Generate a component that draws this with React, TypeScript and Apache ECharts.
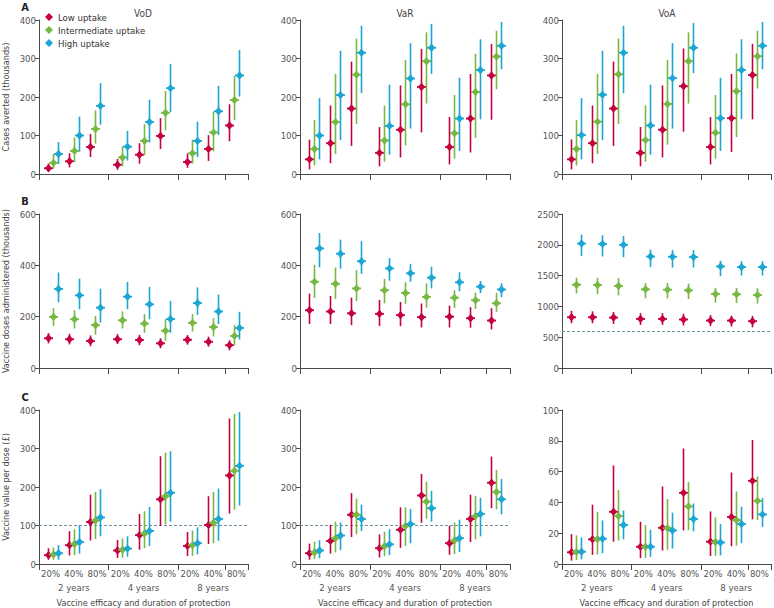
import React, { useEffect, useRef } from "react";
import * as echarts from "echarts";

// ---- labels ----
const efficacyLabels = ["20%", "40%", "80%"];
const durationLabels = ["2 years", "4 years", "8 years"];
const uptakeNames = ["Low uptake", "Intermediate uptake", "High uptake"];
const perspectiveTitles = ["VoD", "VaR", "VoA"];
const panelLetters = ["A", "B", "C"];
const rowAxisNames = [
  "Cases averted (thousands)",
  "Vaccine doses administered (thousands)",
  "Vaccine value per dose (£)",
];
const xAxisTitle = "Vaccine efficacy and duration of protection";

// y-axis ranges per panel [row][col]: [min, max, interval]
const yRanges = [
  [[0, 400, 100], [0, 400, 100], [0, 400, 100]],
  [[0, 600, 200], [0, 600, 200], [0, 2500, 500]],
  [[0, 400, 100], [0, 400, 100], [0, 100, 20]],
];
// dashed reference lines per panel [row][col] (null = none)
const referenceLines = [
  [null, null, null],
  [null, null, 600],
  [100, 100, null],
];

// ---- data: [estimate, lower, upper] for 2y(20,40,80%), 4y(...), 8y(...) ----
// A: cases averted (thousands)
const casesVoDLow = [[15,7,27],[33,17,54],[70,44,104],[24,11,39],[50,27,80],[99,65,145],[31,16,53],[65,34,101],[126,85,181]];
const casesVoDInt = [[29,14,52],[60,31,95],[117,79,165],[43,20,72],[86,49,130],[159,114,216],[54,27,89],[108,59,162],[192,140,255]];
const casesVoDHigh = [[52,26,83],[100,58,149],[177,128,236],[71,35,112],[135,82,193],[223,161,286],[86,44,136],[163,101,229],[256,201,322]];
const casesVaRLow = [[38,12,89],[80,28,178],[170,73,292],[55,20,122],[115,43,230],[226,108,325],[70,25,148],[144,56,260],[256,141,338]];
const casesVaRInt = [[65,22,140],[135,52,260],[258,130,352],[87,32,178],[181,74,296],[293,183,368],[106,40,205],[213,94,312],[305,220,372]];
const casesVaRHigh = [[100,38,197],[205,88,320],[315,210,385],[125,50,232],[248,118,340],[328,260,390],[144,60,250],[270,142,350],[333,272,395]];
const casesVoALow = [[38,12,90],[80,28,178],[170,73,292],[55,20,122],[115,43,230],[228,110,326],[70,25,148],[145,57,260],[257,142,338]];
const casesVoAInt = [[65,22,140],[136,52,260],[259,130,352],[88,32,178],[182,76,296],[293,183,368],[107,40,205],[215,96,313],[306,222,372]];
const casesVoAHigh = [[101,38,197],[206,88,320],[315,210,385],[126,50,232],[249,118,340],[328,262,392],[145,60,250],[270,143,350],[333,272,395]];
// B: vaccine doses administered (thousands)
const dosesVoDLow = [[116,96,136],[112,92,133],[105,85,127],[112,93,132],[109,89,129],[96,77,116],[110,91,128],[102,83,122],[89,69,108]];
const dosesVoDInt = [[199,164,233],[190,154,225],[167,130,203],[186,154,220],[173,137,210],[145,106,190],[176,142,210],[160,123,194],[125,90,167]];
const dosesVoDHigh = [[308,256,372],[283,229,348],[235,177,309],[278,229,335],[248,190,316],[191,137,261],[253,207,314],[220,171,286],[156,111,219]];
const dosesVaRLow = [[225,171,290],[220,171,281],[213,167,274],[211,164,265],[206,163,257],[198,158,251],[200,158,243],[194,157,237],[185,150,233]];
const dosesVaRInt = [[336,273,402],[328,269,391],[310,261,381],[303,252,347],[292,250,334],[277,235,329],[274,234,303],[264,230,294],[252,219,292]];
const dosesVaRHigh = [[466,392,526],[445,387,500],[416,367,494],[388,340,428],[369,336,406],[352,310,395],[334,299,373],[317,292,339],[306,276,330]];
const dosesVoALow = [[824,727,927],[824,727,920],[819,715,910],[797,700,890],[797,700,890],[787,690,880],[770,680,860],[770,675,850],[760,660,845]];
const dosesVoAInt = [[1352,1212,1466],[1347,1200,1466],[1331,1180,1460],[1277,1130,1380],[1271,1130,1380],[1261,1120,1370],[1201,1060,1300],[1196,1055,1300],[1185,1045,1295]];
const dosesVoAHigh = [[2020,1816,2166],[2015,1810,2155],[1999,1800,2145],[1810,1640,1920],[1805,1630,1915],[1800,1630,1915],[1649,1490,1740],[1638,1500,1735],[1638,1500,1735]];
// C: vaccine value per dose (£)
const valueVoDLow = [[23,11,41],[49,22,85],[109,61,180],[35,16,62],[75,37,130],[168,99,280],[47,21,83],[101,52,176],[230,131,378]];
const valueVoDInt = [[25,11,43],[52,23,90],[113,65,187],[37,16,66],[79,41,137],[176,103,289],[49,21,87],[107,54,187],[242,141,390]];
const valueVoDHigh = [[28,11,49],[57,27,100],[121,72,194],[40,19,72],[86,47,148],[185,110,293],[54,25,95],[117,60,196],[255,152,395]];
const valueVaRLow = [[28,11,53],[60,27,102],[128,70,184],[41,17,77],[89,42,147],[178,107,234],[54,24,99],[117,57,180],[211,145,279]];
const valueVaRInt = [[30,13,58],[67,30,110],[128,77,170],[46,20,84],[99,47,147],[162,118,214],[61,26,108],[125,64,177],[187,142,244]];
const valueVaRHigh = [[35,15,62],[74,36,108],[117,86,154],[51,23,90],[104,54,143],[145,110,190],[67,31,115],[130,72,172],[168,129,221]];
const valueVoALow = [[7.6,2.2,19.4],[16,6,38.5],[33.9,14.5,64],[11.2,3.8,27.4],[23.5,8.8,50.3],[46.2,21.8,75],[14.5,5.2,34.1],[30.5,11.5,59.4],[54,29,80.5]];
const valueVoAInt = [[7.8,2.5,18.6],[16.2,6.2,33.7],[31.1,15.3,48],[11.2,4,25.3],[23.3,9.3,42.1],[37.4,22,53.3],[14.3,5.3,30.2],[28.5,12,47.1],[41,28.5,56.8]];
const valueVoAHigh = [[8,3,17.3],[16.4,7,28.3],[25.3,16,34.7],[11.2,4.5,22.2],[21.8,10.1,33.3],[29.2,21.2,39.3],[14,5.6,25.9],[25.9,13.6,37.2],[32.2,24.1,42.8]];

const panelData = [
  [[casesVoDLow, casesVoDInt, casesVoDHigh], [casesVaRLow, casesVaRInt, casesVaRHigh], [casesVoALow, casesVoAInt, casesVoAHigh]],
  [[dosesVoDLow, dosesVoDInt, dosesVoDHigh], [dosesVaRLow, dosesVaRInt, dosesVaRHigh], [dosesVoALow, dosesVoAInt, dosesVoAHigh]],
  [[valueVoDLow, valueVoDInt, valueVoDHigh], [valueVaRLow, valueVaRInt, valueVaRHigh], [valueVoALow, valueVoAInt, valueVoAHigh]],
];

// ---- styling / layout ----
const COLORS = ["#c5003e", "#77b843", "#1ba6d3"];
const FONT = "'Liberation Sans Narrow', 'DejaVu Sans Condensed', 'Liberation Sans', sans-serif";
const AXIS_COLOR = "#4a4a4a";
const LABEL_COLOR = "#555";
const GRID_LEFTS = [38, 300, 562];
const GRID_WIDTH = 210;
const GRID_TOPS = [20, 214, 410];
const GRID_HEIGHT = 154;
const SERIES_OFFSETS = [-5, 0, 5];

function buildOption() {
  const grid: any[] = [];
  const xAxis: any[] = [];
  const yAxis: any[] = [];
  const series: any[] = [];
  const graphic: any[] = [];

  const catLabels: string[] = [];
  durationLabels.forEach(() => efficacyLabels.forEach((e) => catLabels.push(e)));

  for (let r = 0; r < 3; r++) {
    for (let c = 0; c < 3; c++) {
      const g = r * 3 + c;
      grid.push({
        left: GRID_LEFTS[c],
        top: GRID_TOPS[r],
        width: c === 2 ? GRID_WIDTH - 1 : GRID_WIDTH,
        height: GRID_HEIGHT,
      });
      xAxis.push({
        type: "category",
        gridIndex: g,
        data: catLabels,
        boundaryGap: true,
        axisLine: { show: true, lineStyle: { color: AXIS_COLOR, width: 1 } },
        axisTick: { show: true, interval: 2, length: 6, lineStyle: { color: AXIS_COLOR } },
        axisLabel: {
          show: r === 2,
          interval: 0,
          margin: 4,
          fontSize: 9.5,
          color: LABEL_COLOR,
          fontFamily: FONT,
        },
        splitLine: { show: false },
      });
      const [mn, mx, iv] = yRanges[r][c];
      yAxis.push({
        type: "value",
        gridIndex: g,
        min: mn,
        max: mx,
        interval: iv,
        axisLine: { show: true, lineStyle: { color: AXIS_COLOR, width: 1 } },
        axisTick: { show: true, length: 4, lineStyle: { color: AXIS_COLOR } },
        axisLabel: {
          fontSize: 9.5,
          color: LABEL_COLOR,
          fontFamily: FONT,
          margin: 3,
          formatter: (v: number) => String(v),
        },
        splitLine: { show: false },
        name: c === 0 ? rowAxisNames[r] : "",
        nameLocation: "middle",
        nameGap: 29,
        nameTextStyle: { fontSize: 9, color: "#444", fontFamily: FONT },
      });

      for (let u = 0; u < 3; u++) {
        const rows = panelData[r][c][u];
        const color = COLORS[u];
        const off = SERIES_OFFSETS[u];
        const s: any = {
          type: "custom",
          name: uptakeNames[u],
          xAxisIndex: g,
          yAxisIndex: g,
          itemStyle: { color },
          encode: { x: 0, y: [1, 2, 3] },
          data: rows.map((d, i) => [i, d[0], d[1], d[2]]),
          z: 3,
          renderItem: (params: any, api: any) => {
            const i = api.value(0);
            const p = api.coord([i, api.value(1)]);
            const pLo = api.coord([i, api.value(2)]);
            const pHi = api.coord([i, api.value(3)]);
            const x = Math.round(p[0] + off + (1 - (i % 3)) * 2) + 0.5;
            const y = p[1];
            return {
              type: "group",
              children: [
                {
                  type: "line",
                  shape: { x1: x, y1: pLo[1], x2: x, y2: pHi[1] },
                  style: { stroke: color, lineWidth: 1.6 },
                },
                {
                  type: "line",
                  shape: { x1: x - 4.5, y1: y, x2: x + 4.5, y2: y },
                  style: { stroke: color, lineWidth: 1.8 },
                },
                {
                  type: "polygon",
                  shape: { points: [[x, y - 4.2], [x + 3.6, y], [x, y + 4.2], [x - 3.6, y]] },
                  style: { fill: color },
                },
              ],
            };
          },
        };
        if (u === 0 && referenceLines[r][c] !== null) {
          s.markLine = {
            silent: true,
            symbol: "none",
            label: { show: false },
            lineStyle: { type: [3, 2], color: "#6d8e9e", width: 1 },
            data: [{ yAxis: referenceLines[r][c] }],
            z: 1,
          };
        }
        series.push(s);
      }

      if (r === 0) {
        graphic.push({
          type: "text",
          x: GRID_LEFTS[c] + GRID_WIDTH / 2,
          y: 13,
          style: {
            text: perspectiveTitles[c],
            fontSize: 10,
            fill: "#444",
            fontFamily: FONT,
            textAlign: "center",
            textVerticalAlign: "middle",
          },
        });
      }
    }
    graphic.push({
      type: "text",
      x: 25,
      y: GRID_TOPS[r] - 13,
      style: {
        text: panelLetters[r],
        fontSize: 11,
        fontWeight: "bold",
        fill: "#222",
        fontFamily: FONT,
        textAlign: "center",
        textVerticalAlign: "middle",
      },
    });
  }

  // duration row + axis title for bottom panels
  for (let c = 0; c < 3; c++) {
    const g = 6 + c;
    xAxis.push({
      type: "category",
      gridIndex: g,
      data: durationLabels,
      position: "bottom",
      offset: 13,
      boundaryGap: true,
      axisLine: { show: false },
      axisTick: { show: false },
      axisLabel: { interval: 0, margin: 5, fontSize: 9.5, color: LABEL_COLOR, fontFamily: FONT },
      splitLine: { show: false },
      name: xAxisTitle,
      nameLocation: "middle",
      nameGap: 21,
      nameTextStyle: { fontSize: 9, color: "#444", fontFamily: FONT },
    });
  }

  return {
    animation: false,
    backgroundColor: "#ffffff",
    color: COLORS,
    textStyle: { fontFamily: FONT },
    grid,
    xAxis,
    yAxis,
    series,
    graphic,
    legend: {
      data: uptakeNames,
      orient: "vertical",
      left: 45,
      top: 12,
      padding: 0,
      icon: "diamond",
      itemWidth: 8,
      itemHeight: 8,
      itemGap: 3,
      selectedMode: false,
      textStyle: { fontSize: 9.5, color: "#333", fontFamily: FONT },
    },
  };
}

export default function App() {
  const ref = useRef<HTMLDivElement>(null);
  useEffect(() => {
    if (!ref.current) return;
    const chart = echarts.init(ref.current, undefined, { renderer: "svg" });
    chart.setOption(buildOption() as any);
    return () => chart.dispose();
  }, []);
  return (
    <div
      ref={ref}
      style={{ position: "absolute", left: 0, top: 0, width: 774, height: 608, background: "#fff" }}
    />
  );
}
